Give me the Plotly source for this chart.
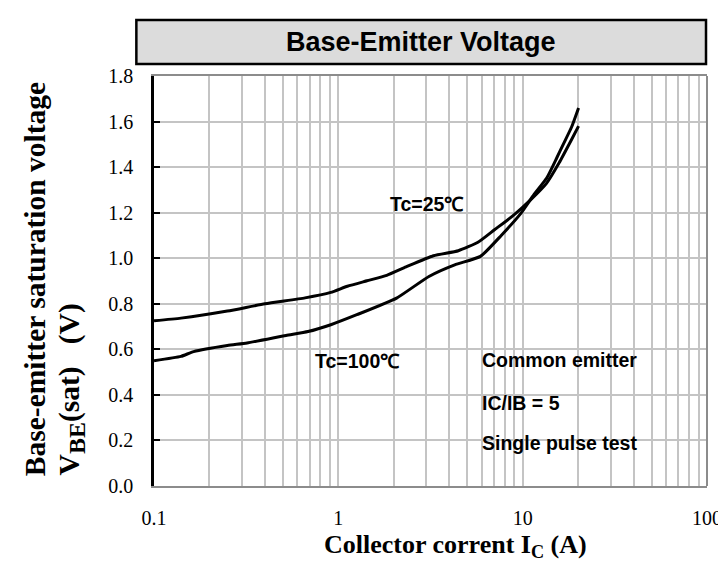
import plotly.graph_objects as go

# ---- data ----
ic_25 = [0.1, 0.14, 0.25, 0.4, 0.66, 0.91, 1.12, 1.43, 1.83, 2.33, 3.28, 4.48, 5.72,
         7.03, 8.97, 11.0, 13.5, 15.8, 18.4, 20.1]
vbe_25 = [0.725, 0.737, 0.768, 0.80, 0.826, 0.85, 0.877, 0.901, 0.925, 0.962, 1.011,
          1.033, 1.07, 1.125, 1.19, 1.255, 1.33, 1.42, 1.52, 1.58]

ic_100 = [0.1, 0.14, 0.164, 0.25, 0.32, 0.52, 0.685, 0.91, 1.26, 2.07, 3.1, 4.28, 5.9,
          7.65, 9.8, 11.5, 13.5, 15.3, 16.6, 18.4, 20.1]
vbe_100 = [0.55, 0.569, 0.59, 0.617, 0.628, 0.661, 0.678, 0.708, 0.752, 0.825, 0.92,
           0.971, 1.008, 1.10, 1.198, 1.279, 1.352, 1.44, 1.50, 1.575, 1.66]

x_tickvals = [0.1, 1, 10, 100]
x_ticktext = ["0.1", "1", "10", "100"]
y_tickvals = [0.0, 0.2, 0.4, 0.6, 0.8, 1.0, 1.2, 1.4, 1.6, 1.8]
y_ticktext = ["0.0", "0.2", "0.4", "0.6", "0.8", "1.0", "1.2", "1.4", "1.6", "1.8"]

title_text = "Base-Emitter Voltage"
xtitle = "Collector corrent I<sub>C</sub> (A)"
ytitle1 = "Base-emitter saturation voltage"
ytitle2 = "V<sub><span style='font-size:24px'>BE</span></sub>(sat)\u00a0\u00a0\u00a0(V)"

# ---- figure ----
fig = go.Figure()
line_style = dict(color="black", width=3, shape="spline", smoothing=0.5)
fig.add_trace(go.Scatter(x=ic_25, y=vbe_25, mode="lines", line=line_style,
                         name="Tc=25℃", showlegend=False, hoverinfo="skip"))
fig.add_trace(go.Scatter(x=ic_100, y=vbe_100, mode="lines", line=line_style,
                         name="Tc=100℃", showlegend=False, hoverinfo="skip"))

tickfont = dict(family="Liberation Serif", size=20, color="black")
grid_col = "#c4c4c4"

fig.update_layout(
    width=726, height=562,
    margin=dict(l=146, r=16, t=68, b=84),
    paper_bgcolor="white", plot_bgcolor="white",
    xaxis=dict(
        type="log", range=[-1, 2],
        tickmode="array", tickvals=x_tickvals, ticktext=x_ticktext,
        tickfont=tickfont, ticks="", ticklabelstandoff=13,
        showgrid=True, gridcolor=grid_col, gridwidth=2,
        minor=dict(dtick="D1", showgrid=True, gridcolor=grid_col, gridwidth=2, ticks=""),
        showline=True, linecolor="#8c8c8c", linewidth=2, mirror=True,
        zeroline=False,
    ),
    yaxis=dict(
        range=[0, 1.8],
        tickmode="array", tickvals=y_tickvals, ticktext=y_ticktext,
        tickfont=tickfont, ticks="inside", ticklen=6, tickwidth=2, tickcolor="black",
        ticklabelstandoff=14,
        showgrid=True, gridcolor=grid_col, gridwidth=2,
        showline=True, linecolor="black", linewidth=2.5,
        zeroline=False,
    ),
    shapes=[
        dict(type="rect", xref="paper", yref="paper",
             x0=-0.0319, x1=0.9982, y0=1.0293, y1=1.1366,
             fillcolor="#dcdcdc", line=dict(color="black", width=2.5), layer="above"),
        dict(type="line", xref="paper", yref="paper", x0=1, x1=1, y0=0, y1=1,
             line=dict(color="#8c8c8c", width=2)),
    ],
)

annos = [
    dict(text="<b>" + title_text + "</b>", xref="paper", yref="paper", x=0.482, y=1.083,
         xanchor="center", yanchor="middle", showarrow=False,
         font=dict(family="Liberation Sans", size=27, color="black")),
    dict(text="<b>" + xtitle + "</b>", xref="paper", yref="paper", x=0.546, y=-0.146,
         xanchor="center", yanchor="middle", showarrow=False,
         font=dict(family="Liberation Serif", size=26, color="black")),
    dict(text="<b>" + ytitle1 + "</b>", xref="paper", yref="paper", x=-0.2163, y=0.02,
         xanchor="center", yanchor="bottom", showarrow=False, textangle=-90,
         font=dict(family="Liberation Serif", size=29.5, color="black")),
    dict(text="<b>" + ytitle2 + "</b>", xref="paper", yref="paper", x=-0.149, y=0.02,
         xanchor="center", yanchor="bottom", showarrow=False, textangle=-90,
         font=dict(family="Liberation Serif", size=29.5, color="black")),
]
inner = [
    ("Tc=25℃", 0.271, 1.238),
    ("Tc=100℃", -0.138, 0.549),
    ("Common emitter", 0.771, 0.553),
    ("IC/IB = 5", 0.771, 0.364),
    ("Single pulse test", 0.771, 0.189),
]
for txt, lx, vy in inner:
    annos.append(dict(text="<b>" + txt + "</b>", x=lx, y=vy, xref="x", yref="y",
                      xanchor="left", yanchor="middle", showarrow=False,
                      font=dict(family="Liberation Sans", size=19.5, color="black")))
fig.update_layout(annotations=annos)

fig.write_html("out.html")
